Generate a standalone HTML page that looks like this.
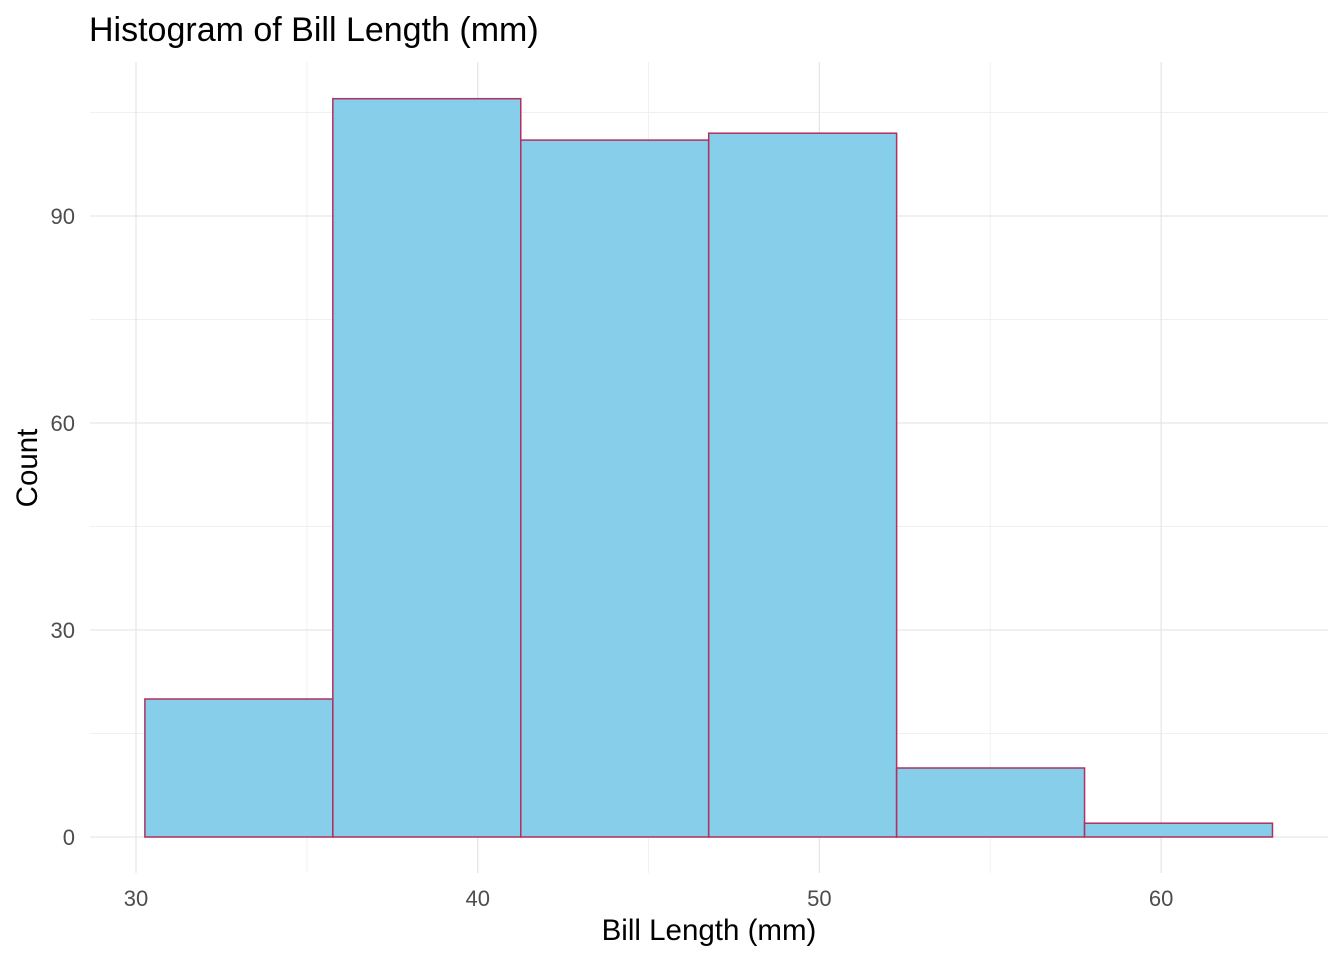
<!DOCTYPE html>
<html><head><meta charset="utf-8"><style>
html,body{margin:0;padding:0;background:#fff;}
svg{display:block;font-family:"Liberation Sans",Arial,sans-serif;}
</style></head><body>
<svg id="chart" width="1344" height="960">
<text x="89" y="41" font-size="34" fill="#000">Histogram of Bill Length (mm)</text>
<g id="grid"></g>
<g id="bars"></g>
<g id="xticks"></g>
<g id="yticks"></g>
<text x="709" y="940" font-size="29.5" text-anchor="middle" fill="#000">Bill Length (mm)</text>
<text transform="translate(37,468) rotate(-90)" font-size="29.5" text-anchor="middle" fill="#000">Count</text>
</svg>
<script>
const binStarts = [30.26, 35.76, 41.26, 46.76, 52.26, 57.76];
const binWidth = 5.5;
const counts = [20, 107, 101, 102, 10, 2];
const xTickLabels = [30, 40, 50, 60];
const yTickLabels = [0, 30, 60, 90];
const xMinor = [35, 45, 55];
const yMinor = [15, 45, 75, 105];

const px0 = 90, px1 = 1328, py0 = 62, py1 = 873;
const X = v => 136 + (v - 30) * 34.17;
const Y = v => 837 - v * 6.9;
const NS = "http://www.w3.org/2000/svg";
function mk(tag, attrs, parent){const e=document.createElementNS(NS,tag);for(const k in attrs)e.setAttribute(k,attrs[k]);parent.appendChild(e);return e;}
const grid=document.getElementById('grid');
xMinor.forEach(v=>{const l=mk('line',{x1:X(v),x2:X(v),y1:py0,y2:py1,stroke:'#f0f0f0','stroke-width':1},grid);

});
yMinor.forEach(v=>{const l=mk('line',{x1:px0,x2:px1,y1:Y(v),y2:Y(v),stroke:'#f0f0f0','stroke-width':1},grid);

});
xTickLabels.forEach(v=>{const l=mk('line',{x1:X(v),x2:X(v),y1:py0,y2:py1,stroke:'#e6e6e6','stroke-width':1.3},grid);

});
yTickLabels.forEach(v=>{const l=mk('line',{x1:px0,x2:px1,y1:Y(v),y2:Y(v),stroke:'#e6e6e6','stroke-width':1.3},grid);

});
const bars=document.getElementById('bars');
binStarts.forEach((s,i)=>{const r=mk('rect',{x:X(s),y:Y(counts[i]),width:X(s+binWidth)-X(s),height:Y(0)-Y(counts[i]),fill:'#87ceeb',stroke:'#b03060','stroke-width':1.5},bars);

});
const xt=document.getElementById('xticks');
xTickLabels.forEach(v=>{const t=mk('text',{x:X(v),y:906,'font-size':22,'text-anchor':'middle',fill:'#4d4d4d'},xt);t.textContent=v;

});
const yt=document.getElementById('yticks');
yTickLabels.forEach(v=>{const t=mk('text',{x:75,y:Y(v)+8,'font-size':22,'text-anchor':'end',fill:'#4d4d4d'},yt);t.textContent=v;

});
</script>
</body></html>
